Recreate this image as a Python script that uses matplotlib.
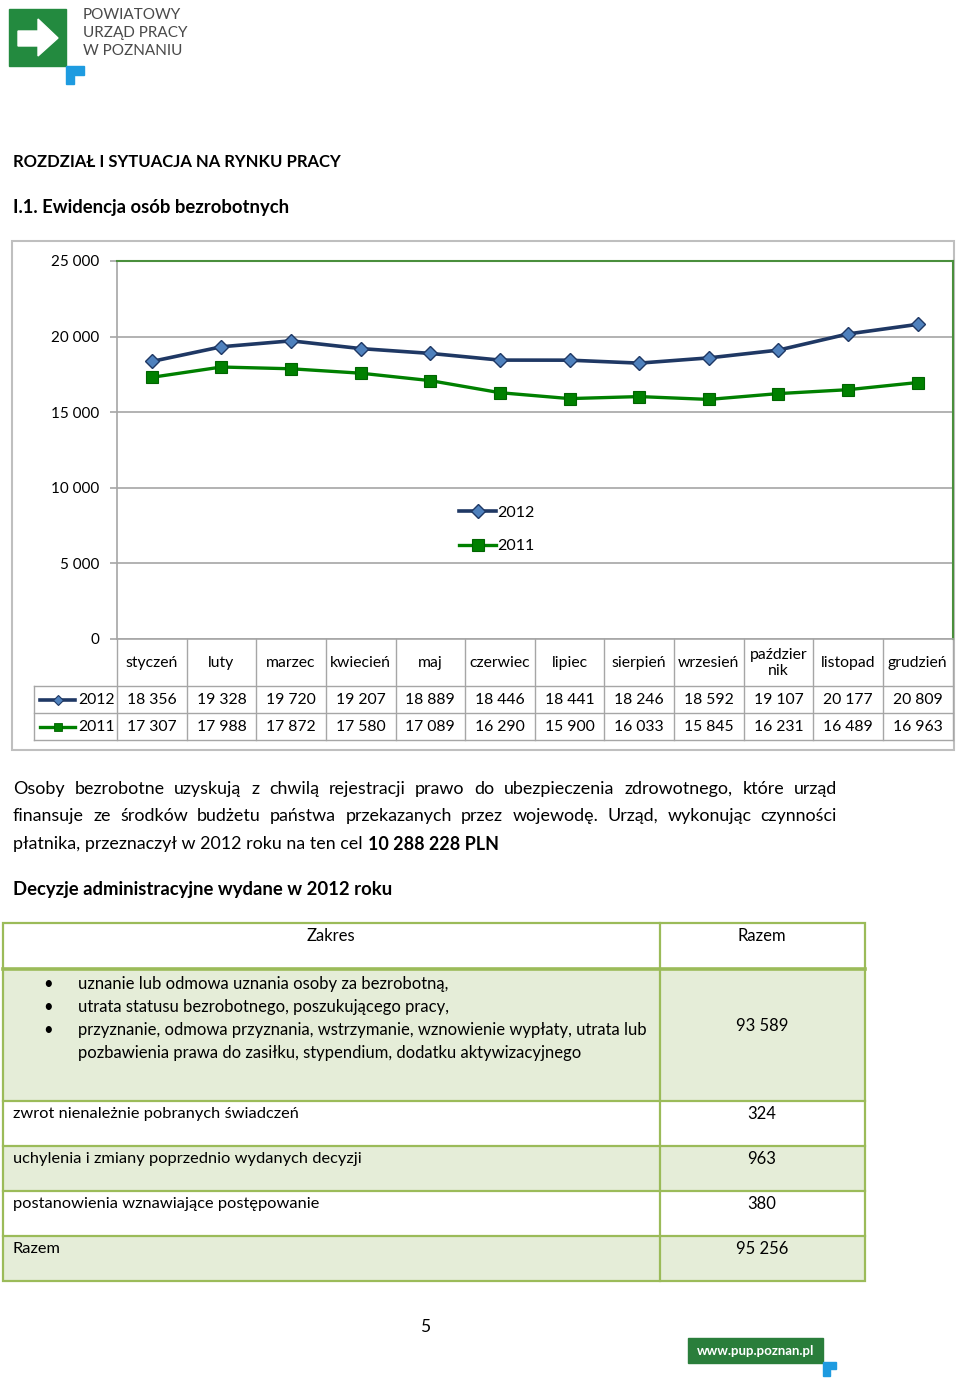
import matplotlib
matplotlib.use("Agg")
import matplotlib.pyplot as plt
from matplotlib.patches import Rectangle, Polygon
from matplotlib.transforms import blended_transform_factory

plt.rcParams['font.family'] = ['Lato', 'DejaVu Sans']

# ---- data ----
months = ["styczeń", "luty", "marzec", "kwiecień", "maj", "czerwiec", "lipiec",
          "sierpień", "wrzesień", "paździer\nnik", "listopad", "grudzień"]
y2012 = [18356, 19328, 19720, 19207, 18889, 18446, 18441, 18246, 18592, 19107, 20177, 20809]
y2011 = [17307, 17988, 17872, 17580, 17089, 16290, 15900, 16033, 15845, 16231, 16489, 16963]
yticks = [0, 5000, 10000, 15000, 20000, 25000]

bullet_items = ["uznanie lub odmowa uznania osoby za bezrobotną,",
                "utrata statusu bezrobotnego, poszukującego pracy,",
                "przyznanie, odmowa przyznania, wstrzymanie, wznowienie wypłaty, utrata lub",
                "pozbawienia prawa do zasiłku, stypendium, dodatku aktywizacyjnego"]
bullet_total = 93589
decision_rows = ["zwrot nienależnie pobranych świadczeń",
                 "uchylenia i zmiany poprzednio wydanych decyzji",
                 "postanowienia wznawiające postępowanie",
                 "Razem"]
decision_values = [324, 963, 380, 95256]

para_lines = [
    "Osoby bezrobotne uzyskują z chwilą rejestracji prawo do ubezpieczenia zdrowotnego, które urząd",
    "finansuje ze środków budżetu państwa przekazanych przez wojewodę. Urząd, wykonując czynności",
]
para_last = "płatnika, przeznaczył w 2012 roku na ten cel"
para_bold = "10 288 228 PLN"


def fmt(v):
    return f"{v:,}".replace(",", " ")


C12_LINE = "#1F3864"
C12_FACE = "#4F81BD"
C11 = "#008000"
GRID = "#A6A6A6"
TBL = "#9BBB59"
TBL_FILL = "#E5EDD8"

fig = plt.figure(figsize=(9.6, 13.8), dpi=100)
pg = fig.add_axes([0, 0, 1, 1])
pg.set_xlim(0, 960)
pg.set_ylim(1380, 0)
pg.axis("off")
r = fig.canvas.get_renderer()

# ---- logo ----
pg.add_patch(Rectangle((9, 9), 57, 57, color="#238A3F"))
pg.add_patch(Polygon([(18, 31), (38, 31), (38, 19), (58, 38), (38, 56), (38, 46), (18, 46)],
                     closed=True, color="white"))
pg.add_patch(Polygon([(66, 66), (84, 66), (84, 75), (74, 75), (74, 84), (66, 84)],
                     closed=True, color="#1E9BE0"))
for i, s in enumerate(["POWIATOWY", "URZĄD PRACY", "W POZNANIU"]):
    pg.text(83, 15 + 18 * i, s, fontsize=11, color="#4A4A4A", va="center")

# ---- headings ----
pg.text(13, 162, "ROZDZIAŁ I SYTUACJA NA RYNKU PRACY", fontsize=12, fontweight="bold", va="center")
pg.text(13, 208, "I.1. Ewidencja osób bezrobotnych", fontsize=13.3, fontweight="bold", va="center")

# ---- chart ----
pg.add_patch(Rectangle((12, 241), 942, 509, fill=False, ec="#BFBFBF", lw=1.5))

L, R, T, B = 117, 952.5, 261, 639
ax = fig.add_axes([L / 960, 1 - B / 1380, (R - L) / 960, (B - T) / 1380])
ax.set_xlim(-0.5, 11.5)
ax.set_ylim(0, 25000)
ax.set_facecolor("none")
x = list(range(len(months)))
ax.plot(x, y2012, color=C12_LINE, lw=2.6, marker="D", ms=7.5, mfc=C12_FACE, mec=C12_LINE,
        mew=1, label="2012", zorder=4)
ax.plot(x, y2011, color=C11, lw=2.4, marker="s", ms=9, mfc=C11, mec="#006400",
        mew=0.8, label="2011", zorder=3)
ax.set_yticks(yticks)
ax.set_yticklabels([fmt(v) for v in yticks], fontsize=11)
ax.set_xticks([])
ax.grid(axis="y", color=GRID, lw=1.2)
ax.set_axisbelow(True)
for s in ["left", "bottom"]:
    ax.spines[s].set_color(GRID)
    ax.spines[s].set_linewidth(1.2)
for s in ["top", "right"]:
    ax.spines[s].set_color("#4A8F3C")
    ax.spines[s].set_linewidth(1.5)
ax.tick_params(axis="y", length=5, color=GRID, width=1.2, pad=8)
ax.legend(loc="center left", bbox_to_anchor=(0.4, 0.29), frameon=False, fontsize=11.5,
          handlelength=2.3, handletextpad=0.1, labelspacing=1.2, borderpad=0)

# data table under the chart
bt = blended_transform_factory(ax.transData, pg.transData)
for k in range(len(months) + 1):
    ax.plot([k - 0.5, k - 0.5], [639, 740], color=GRID, lw=1, transform=bt, clip_on=False)
for yy in [686, 713, 740]:
    pg.plot([34, 952.5], [yy, yy], color=GRID, lw=1)
pg.plot([34, 34], [686, 740], color=GRID, lw=1)
for i, m in enumerate(months):
    ax.text(i, 663, m, transform=bt, ha="center", va="center", fontsize=11.3,
            linespacing=1.25, clip_on=False)
    ax.text(i, 700, fmt(y2012[i]), transform=bt, ha="center", va="center", fontsize=11.3, clip_on=False)
    ax.text(i, 727, fmt(y2011[i]), transform=bt, ha="center", va="center", fontsize=11.3, clip_on=False)
pg.plot([40, 75], [700, 700], color=C12_LINE, lw=2.6)
pg.plot([57.5], [700], marker="D", ms=5, mfc=C12_FACE, mec=C12_LINE, mew=0.8)
pg.plot([40, 75], [727, 727], color=C11, lw=2.4)
pg.plot([57.5], [727], marker="s", ms=6, mfc=C11, mec="#006400", mew=0.6)
pg.text(78, 700, "2012", fontsize=11.3, va="center")
pg.text(78, 727, "2011", fontsize=11.3, va="center")

# ---- paragraph (justified) ----
PS = 12.9
for j, line in enumerate(para_lines):
    words = line.split(" ")
    ts = [pg.text(0, 789 + 27 * j, w, fontsize=PS, va="center") for w in words]
    ws = [t.get_window_extent(r).width for t in ts]
    gap = (837 - 13 - sum(ws)) / (len(ws) - 1)
    xx = 13
    for t, w in zip(ts, ws):
        t.set_x(xx)
        xx += w + gap
t = pg.text(13, 844, para_last, fontsize=PS, va="center")
w = t.get_window_extent(r).width
pg.text(13 + w + 5, 844, para_bold, fontsize=PS, fontweight="bold", va="center")

pg.text(13, 890, "Decyzje administracyjne wydane w 2012 roku", fontsize=13.3, fontweight="bold", va="center")

# ---- decisions table ----
X0, XM, X1 = 3, 660, 865
row_edges = [969, 1101, 1146, 1191, 1236, 1281]
fills = [True, False, True, False, True]
for k in range(5):
    if fills[k]:
        pg.add_patch(Rectangle((X0, row_edges[k]), X1 - X0, row_edges[k + 1] - row_edges[k],
                               color=TBL_FILL, lw=0))
pg.add_patch(Rectangle((X0, 923), X1 - X0, 1281 - 923, fill=False, ec=TBL, lw=1.6))
pg.plot([XM, XM], [923, 1281], color=TBL, lw=1.6)
pg.plot([X0, X1], [969, 969], color=TBL, lw=2.6)
for yy in row_edges[1:-1]:
    pg.plot([X0, X1], [yy, yy], color=TBL, lw=1.6)
FS = 12
pg.text(331, 936, "Zakres", fontsize=FS, ha="center", va="center")
pg.text(762, 936, "Razem", fontsize=FS, ha="center", va="center")
for i, s in enumerate(bullet_items):
    yy = 984 + 23 * i
    if i < 3:
        pg.text(48, yy, "•", fontsize=FS, ha="center", va="center")
    pg.text(78, yy, s, fontsize=FS, va="center")
pg.text(762, 1026, fmt(bullet_total), fontsize=FS, ha="center", va="center")
for i, (s, v) in enumerate(zip(decision_rows, decision_values)):
    yy = 1114 + 45 * i
    pg.text(13, yy, s, fontsize=11.8, va="center")
    pg.text(762, yy, fmt(v), fontsize=FS, ha="center", va="center")

# ---- footer ----
pg.text(425, 1327, "5", fontsize=12.5, ha="center", va="center")
pg.add_patch(Rectangle((688, 1338), 135, 25, color="#2A7E3B"))
pg.text(755.5, 1351, "www.pup.poznan.pl", fontsize=9.5, color="white", fontweight="bold",
        ha="center", va="center")
pg.add_patch(Polygon([(823, 1362), (836, 1362), (836, 1369), (830, 1369), (830, 1376), (823, 1376)],
                     closed=True, color="#1E9BE0"))

fig.savefig("out.png", dpi=100)
